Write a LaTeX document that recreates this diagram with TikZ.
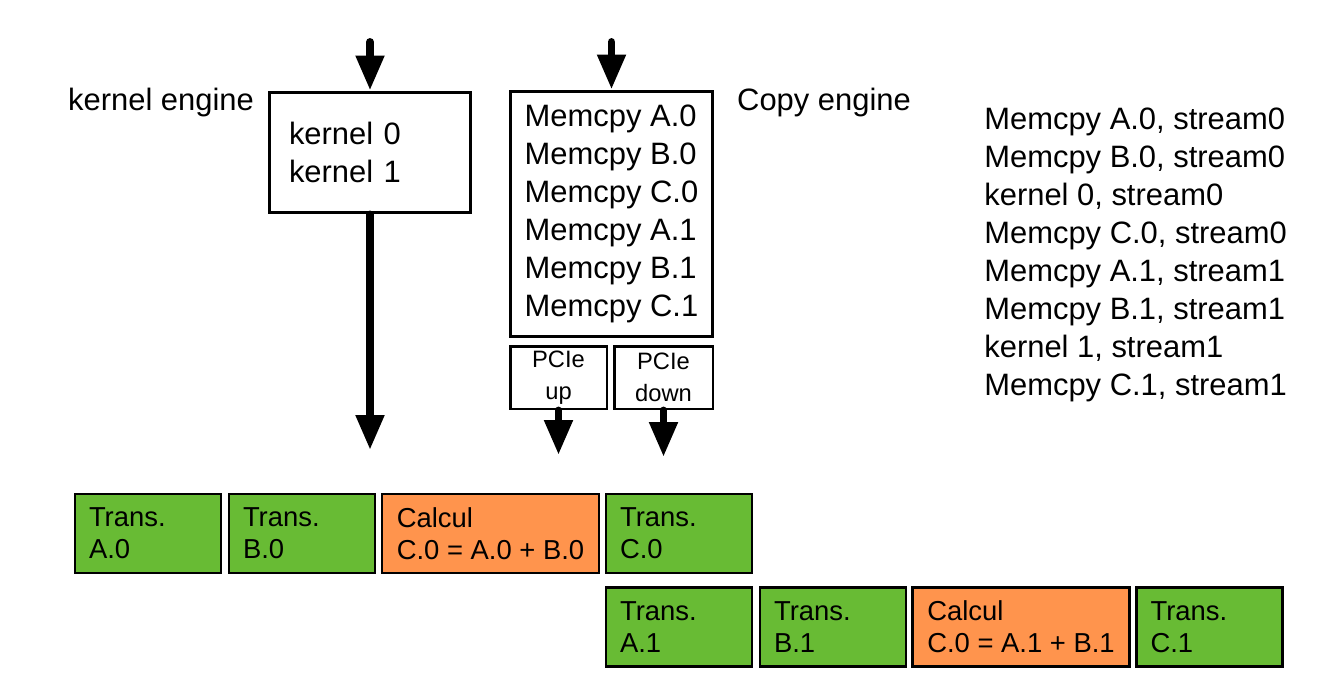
\documentclass[tikz,border=0pt]{standalone}
\usepackage{fontspec}
\setmainfont{Liberation Sans}
\usetikzlibrary{arrows.meta}
\definecolor{transgreen}{RGB}{104,187,52}
\definecolor{calcorange}{RGB}{255,148,77}
\tikzset{
  bigarrow/.style={line width=4.5pt, line cap=round, -{Triangle[length=0.7cm,width=0.54cm]}},
  engine/.style={draw, line width=1.7pt, inner ysep=0pt, align=left, font=\fontsize{17.6}{21.6}\selectfont},
  pcie/.style={draw, line width=1.7pt, inner sep=0pt, minimum height=1.26cm, align=center, font=\fontsize{13.5}{18.4}\selectfont},
  task/.style={draw, line width=1.5pt, inner ysep=0pt, minimum height=1.58cm, align=left, font=\fontsize{15.6}{18.4}\selectfont},
  trans/.style={task, fill=transgreen, inner xsep=0.28cm, text width=2.36cm},
  calcul/.style={task, fill=calcorange, inner xsep=0pt, minimum width=4.34cm},
}
\begin{document}
\begin{tikzpicture}[x=0.02cm,y=-0.02cm]
\useasboundingbox (0,0) rectangle (1344,689);

% engines
\node[engine, text width=3.24cm, inner xsep=0.4cm, minimum height=2.42cm] (kernel) at (370,152.5) {kernel 0\\kernel 1};
\node[engine, inner xsep=0pt, minimum width=4.06cm, minimum height=4.92cm] (copy) at (611.5,214)
{Memcpy A.0\\Memcpy B.0\\Memcpy C.0\\Memcpy A.1\\Memcpy B.1\\Memcpy C.1};
\node[font=\fontsize{17.6}{21.6}\selectfont] (klabel) at (161,103) {kernel engine};
\node[font=\fontsize{17.6}{21.6}\selectfont] (clabel) at (824,103) {Copy engine};

\node[pcie, minimum width=1.94cm] (up) at (558.5,377.5) {PCIe\\up};
\node[pcie, minimum width=1.98cm] (down) at (663.5,377.5) {PCIe\\down};

% issue order
\node[anchor=west, inner sep=0pt, align=left, font=\fontsize{17.6}{21.6}\selectfont] (order) at (984,255)
{Memcpy A.0, stream0\\Memcpy B.0, stream0\\kernel 0, stream0\\Memcpy C.0, stream0\\Memcpy A.1, stream1\\Memcpy B.1, stream1\\kernel 1, stream1\\Memcpy C.1, stream1};

% arrows
\coordinate (kin) at (370,42);
\coordinate (cin) at (611.5,42);
\coordinate (kout) at (370,450);
\coordinate (upout) at (558.5,455);
\coordinate (downout) at (663.5,457);
\draw[bigarrow] (kin) to (kernel.north);
\draw[bigarrow] (cin) to (copy.north);
\draw[bigarrow] (kernel.south) to (kout);
\draw[bigarrow] (up.south) to (upout);
\draw[bigarrow] (down.south) to (downout);

% stream 0
\node[trans] (ta0) at (148,533.5) {Trans.\\A.0};
\node[trans] (tb0) at (302,533.5) {Trans.\\B.0};
\node[calcul] (calc0) at (490.5,533.5) {Calcul\\C.0 = A.0 + B.0};
\node[trans] (tc0) at (679,533.5) {Trans.\\C.0};

% stream 1
\node[trans] (ta1) at (679,627) {Trans.\\A.1};
\node[trans] (tb1) at (833,627) {Trans.\\B.1};
\node[calcul] (calc1) at (1021,627) {Calcul\\C.0 = A.1 + B.1};
\node[trans] (tc1) at (1209.5,627) {Trans.\\C.1};
\end{tikzpicture}
\end{document}
